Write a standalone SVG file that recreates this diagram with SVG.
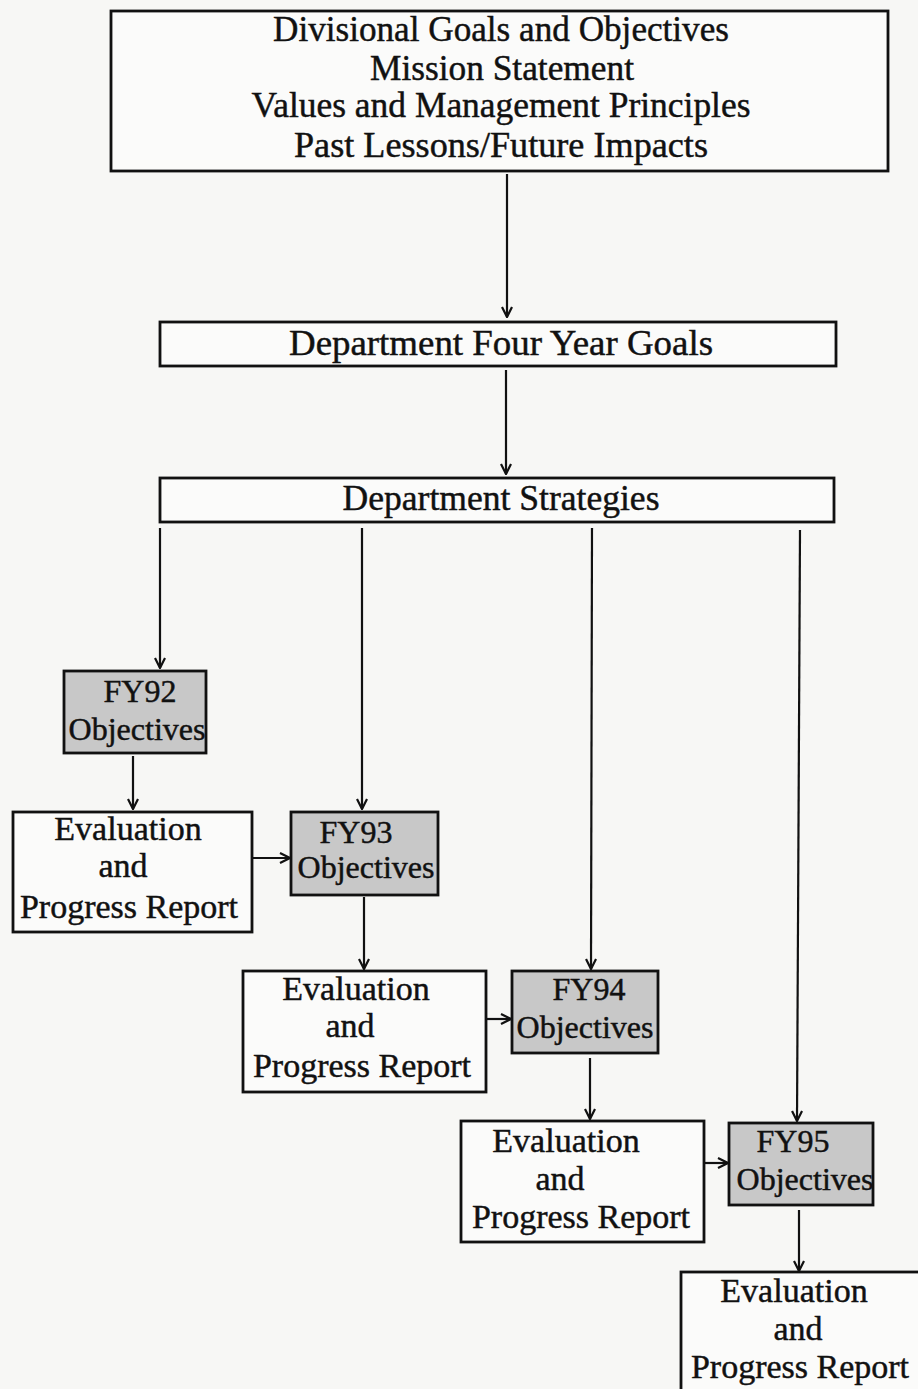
<svg xmlns="http://www.w3.org/2000/svg" width="918" height="1389" viewBox="0 0 918 1389">
<defs>
<style>
.bg{fill:#f7f7f5}
.box{fill:#fbfbfa;stroke:#111;stroke-width:2.8}
.fy{fill:#c8c8c8;stroke:#111;stroke-width:2.8}
.t{font-family:"Liberation Serif","Times New Roman",serif;fill:#111;stroke:#111;stroke-width:0.45;text-anchor:middle}
.big{font-size:36px}
.mid{font-size:34px}
.sm{font-size:32px}
.c{fill:none;stroke:#111;stroke-width:2.2}
</style>
<marker id="ah" viewBox="0 0 12 12" refX="11" refY="6" markerWidth="12" markerHeight="12" orient="auto" markerUnits="userSpaceOnUse">
<path d="M1,1 L11,6 L1,11" fill="none" stroke="#111" stroke-width="2.2"/>
</marker>
</defs>
<rect class="bg" x="0" y="0" width="918" height="1389"/>

<g id="connectors">
<line class="c" x1="507" y1="174" x2="507" y2="317" marker-end="url(#ah)"/>
<line class="c" x1="506" y1="370" x2="506" y2="474" marker-end="url(#ah)"/>
<line class="c" x1="160" y1="528" x2="160" y2="668" marker-end="url(#ah)"/>
<line class="c" x1="362" y1="528" x2="362" y2="809" marker-end="url(#ah)"/>
<line class="c" x1="592" y1="528" x2="591" y2="969" marker-end="url(#ah)"/>
<line class="c" x1="800" y1="530" x2="797" y2="1121" marker-end="url(#ah)"/>
<line class="c" x1="133" y1="756" x2="133" y2="809" marker-end="url(#ah)"/>
<line class="c" x1="253" y1="858" x2="290" y2="858" marker-end="url(#ah)"/>
<line class="c" x1="364" y1="897" x2="364" y2="969" marker-end="url(#ah)"/>
<line class="c" x1="487" y1="1019" x2="511" y2="1019" marker-end="url(#ah)"/>
<line class="c" x1="590" y1="1058" x2="590" y2="1119" marker-end="url(#ah)"/>
<line class="c" x1="705" y1="1163" x2="728" y2="1163" marker-end="url(#ah)"/>
<line class="c" x1="799" y1="1210" x2="799" y2="1271" marker-end="url(#ah)"/>
</g>

<g id="top">
<rect class="box" x="111" y="11" width="777" height="160"/>
<text class="t big" x="501" y="41" textLength="456" lengthAdjust="spacingAndGlyphs">Divisional Goals and Objectives</text>
<text class="t big" x="502" y="80" textLength="264" lengthAdjust="spacingAndGlyphs">Mission Statement</text>
<text class="t big" x="501" y="117" textLength="499" lengthAdjust="spacingAndGlyphs">Values and Management Principles</text>
<text class="t big" x="501" y="157" textLength="414" lengthAdjust="spacingAndGlyphs">Past Lessons/Future Impacts</text>
</g>

<g id="goals">
<rect class="box" x="160" y="322" width="676" height="44"/>
<text class="t big" x="501" y="355" textLength="424" lengthAdjust="spacingAndGlyphs">Department Four Year Goals</text>
</g>

<g id="strategies">
<rect class="box" x="160" y="478" width="674" height="44"/>
<text class="t big" x="501" y="510" textLength="317" lengthAdjust="spacingAndGlyphs">Department Strategies</text>
</g>

<g id="fy92">
<rect class="fy" x="64" y="671" width="142" height="82"/>
<text class="t sm" x="140" y="702">FY92</text>
<text class="t sm" x="137" y="740">Objectives</text>
</g>

<g id="eval1">
<rect class="box" x="13" y="812" width="239" height="120"/>
<text class="t mid" x="128" y="840">Evaluation</text>
<text class="t mid" x="123" y="877">and</text>
<text class="t mid" x="129" y="918">Progress Report</text>
</g>

<g id="fy93">
<rect class="fy" x="291" y="812" width="147" height="83"/>
<text class="t sm" x="356" y="843">FY93</text>
<text class="t sm" x="366" y="878">Objectives</text>
</g>

<g id="eval2">
<rect class="box" x="243" y="971" width="243" height="121"/>
<text class="t mid" x="356" y="1000">Evaluation</text>
<text class="t mid" x="350" y="1037">and</text>
<text class="t mid" x="362" y="1077">Progress Report</text>
</g>

<g id="fy94">
<rect class="fy" x="512" y="971" width="146" height="82"/>
<text class="t sm" x="589" y="1000">FY94</text>
<text class="t sm" x="585" y="1038">Objectives</text>
</g>

<g id="eval3">
<rect class="box" x="461" y="1121" width="243" height="121"/>
<text class="t mid" x="566" y="1152">Evaluation</text>
<text class="t mid" x="560" y="1190">and</text>
<text class="t mid" x="581" y="1228">Progress Report</text>
</g>

<g id="fy95">
<rect class="fy" x="729" y="1123" width="144" height="82"/>
<text class="t sm" x="793" y="1152">FY95</text>
<text class="t sm" x="805" y="1190">Objectives</text>
</g>

<g id="eval4">
<rect class="box" x="681" y="1272" width="262" height="140"/>
<text class="t mid" x="794" y="1302">Evaluation</text>
<text class="t mid" x="798" y="1340">and</text>
<text class="t mid" x="800" y="1378">Progress Report</text>
</g>
</svg>
